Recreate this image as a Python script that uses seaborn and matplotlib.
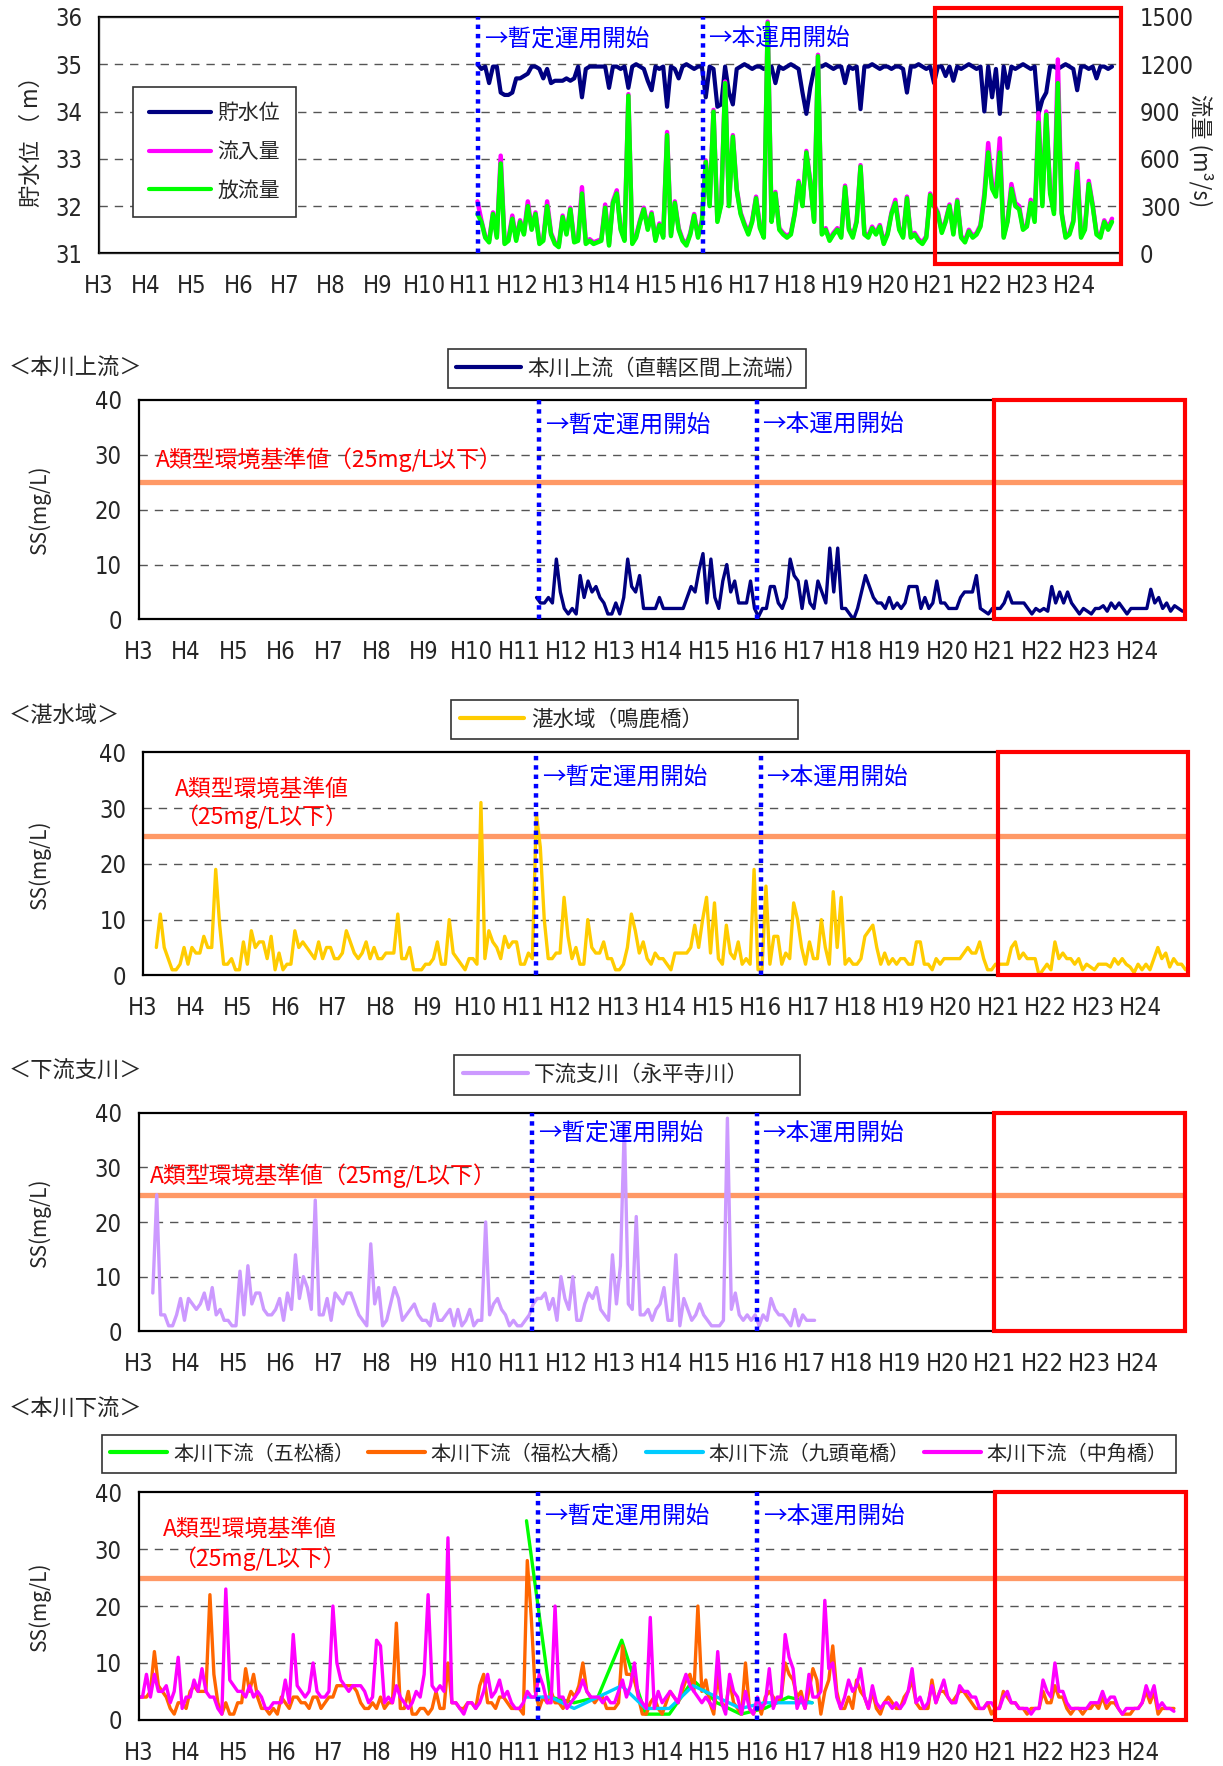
import numpy as np
import matplotlib
matplotlib.use("Agg")
import matplotlib.pyplot as plt
from matplotlib import font_manager
from matplotlib.font_manager import FontProperties
from matplotlib.lines import Line2D
from matplotlib.patches import Rectangle
import seaborn as sns

# ---- data ------------------------------------------------------------
years = list(range(3, 25))
year_labels = ["H%d" % y for y in years]

# reservoir: monthly samples from H11.15
dam_start = 11.15
water_level = [
    35.0, 34.9, 34.95, 34.6, 34.95, 34.95, 34.4, 34.35, 34.35, 34.4, 34.7, 34.7,
    34.75, 34.8, 34.95, 34.95, 34.9, 34.7, 34.9, 34.6, 34.65, 34.65, 34.65, 34.7,
    34.65, 34.7, 34.95, 34.3, 34.9, 34.95, 34.95, 34.95, 34.95, 34.95, 34.5, 34.95,
    34.95, 34.9, 34.95, 34.5, 34.95, 35.0, 34.95, 34.9, 34.65, 34.45, 34.95, 34.9,
    34.95, 34.1, 34.95, 34.9, 34.7, 34.95, 35.0, 34.95, 34.9, 34.95, 34.95, 34.3,
    34.95, 34.9, 34.1, 34.15, 34.95, 34.4, 34.15, 34.9, 34.95, 35.0, 34.95, 34.9,
    34.95, 34.95, 34.9, 34.95, 34.95, 34.6, 34.95, 34.9, 34.95, 35.0, 34.95, 34.9,
    34.4, 33.95, 34.5, 34.9, 34.95, 34.95, 35.0, 34.95, 34.9, 34.95, 34.95, 34.6,
    34.95, 34.9, 34.95, 34.05, 34.95, 34.95, 35.0, 34.95, 34.9, 34.95, 34.95, 34.9,
    34.95, 34.95, 34.9, 34.4, 34.95, 34.95, 35.0, 34.95, 34.9, 34.95, 34.6, 34.95,
    34.95, 34.75, 34.95, 34.65, 34.95, 34.9, 34.95, 35.0, 34.95, 34.9, 34.95, 34.0,
    34.95, 34.3, 34.9, 33.95, 34.95, 34.5, 34.95, 34.9, 34.95, 35.0, 34.95, 34.9,
    34.95, 33.95, 34.25, 34.4, 34.95, 34.95, 34.9, 34.95, 35.0, 34.95, 34.9, 34.45,
    34.95, 34.95, 34.9, 34.95, 34.7, 34.95, 34.95, 34.9, 34.95,
]
outflow = [
    250, 200, 100, 70, 250, 100, 570, 60, 80, 220, 80, 200,
    120, 300, 150, 250, 60, 80, 300, 120, 60, 40, 230, 120,
    280, 70, 80, 380, 60, 80, 60, 70, 80, 290, 50, 320,
    380, 150, 80, 1000, 60, 100, 200, 280, 150, 250, 80, 180,
    100, 750, 110, 320, 150, 80, 50, 120, 240, 100, 200, 580,
    300, 900, 200, 310, 1080, 300, 740, 400, 250, 180, 120, 200,
    350, 160, 100, 1460, 200, 380, 150, 120, 100, 120, 250, 450,
    300, 640, 450, 200, 1250, 120, 150, 80, 120, 150, 100, 420,
    150, 100, 200, 550, 120, 100, 160, 120, 170, 60, 120, 250,
    320, 150, 100, 350, 100, 120, 80, 60, 100, 370, 300, 250,
    130, 200, 300, 120, 330, 100, 70, 140, 100, 120, 170, 350,
    640, 410, 360, 640, 100, 200, 410, 300, 280, 150, 170, 320,
    200, 830, 300, 880, 380, 250, 1080, 250, 100, 120, 200, 520,
    100, 150, 440, 300, 120, 100, 200, 150, 200,
]
inflow = [
    330, 210, 110, 80, 260, 110, 620, 70, 90, 240, 90, 210,
    130, 330, 160, 260, 70, 90, 330, 130, 70, 50, 240, 130,
    290, 80, 90, 420, 70, 90, 70, 80, 90, 310, 60, 330,
    400, 160, 90, 1010, 70, 110, 210, 290, 160, 260, 90, 190,
    110, 770, 120, 330, 160, 90, 60, 130, 250, 110, 210, 590,
    310, 910, 210, 320, 1090, 310, 750, 410, 260, 190, 130, 210,
    360, 170, 110, 1470, 210, 390, 160, 130, 110, 130, 260, 460,
    310, 650, 460, 210, 1260, 130, 160, 90, 130, 160, 110, 430,
    160, 110, 210, 560, 130, 110, 170, 130, 180, 70, 130, 260,
    340, 160, 110, 360, 110, 130, 90, 70, 110, 380, 310, 260,
    140, 210, 310, 130, 340, 110, 80, 150, 110, 130, 180, 380,
    700, 440, 400, 730, 110, 210, 440, 320, 300, 160, 180, 340,
    220, 890, 320, 900, 400, 270, 1230, 260, 110, 130, 210, 570,
    110, 160, 460, 310, 130, 110, 210, 160, 220,
]

# 本川上流 (monthly from H11.37)
upper_start = 11.37
ss_upper = [
    4, 3, 3, 4, 3, 11, 5, 2, 1, 2, 1, 8, 4, 7, 5, 6, 4, 3, 1, 1, 3,
    1, 4, 11, 6, 5, 8, 2, 2, 2, 2, 4, 2, 2, 2, 2, 2, 2, 4, 6, 5,
    9, 12, 3, 11, 4, 2, 7, 10, 5, 7, 3, 3, 3, 7, 2, 0.5, 2, 2, 6, 6,
    3, 2, 4, 11, 8, 7, 2, 7, 3, 2, 7, 5, 3, 13, 5, 13, 2, 2, 1, 0,
    2, 5, 8, 6, 4, 3, 3, 2, 4, 2, 3, 2, 3, 6, 6, 6, 2, 4, 2, 3,
    7, 3, 3, 2, 2, 2, 4, 5, 5, 5, 8, 2, 1.5, 1, 2, 2, 2, 3, 5, 3,
    3, 3, 3, 2, 1, 2, 1.5, 2, 1.5, 6, 3, 5, 3, 5, 3, 2, 1, 2, 1.5, 1,
    2, 2, 2.5, 1.5, 3, 2, 3, 2, 1, 2, 2, 2, 2, 2, 5.5, 3, 4, 2, 3, 1.5,
    2.5, 2, 1.5,
]

# 湛水域 (monthly from H3.28)
lake_start = 3.28
ss_lake = [
    5, 11, 5, 3, 1, 1, 2, 5, 2, 5, 4, 4, 7, 5, 5, 19, 9, 2, 2, 3,
    1, 1, 6, 2, 8, 5, 6, 6, 3, 7, 1, 4, 1, 2, 2, 8, 5, 6, 5, 4,
    3, 6, 3, 5, 5, 3, 3, 4, 8, 6, 4, 3, 4, 6, 3, 5, 3, 3, 4, 4,
    4, 11, 3, 3, 5, 1, 1, 1, 2, 2, 3, 6, 2, 2, 10, 4, 3, 2, 1, 3,
    3, 2, 31, 3, 8, 6, 5, 3, 7, 5, 6, 6, 2, 2, 4, 3, 29, 23, 10, 3,
    3, 4, 4, 14, 7, 3, 5, 2, 2, 10, 5, 4, 4, 6, 3, 3, 1, 1, 2,
    5, 11, 8, 4, 6, 3, 2, 4, 3, 3, 2, 1, 4, 4, 4, 4, 5, 9, 5, 10,
    14, 4, 13, 3, 2, 9, 4, 3, 6, 2, 3, 2, 19, 1, 1, 16, 2, 7, 7, 2,
    4, 3, 13, 10, 5, 2, 6, 3, 3, 10, 5, 2, 15, 5, 14, 2, 3, 2, 2, 3,
    7, 8, 9, 5, 2, 4, 2, 3, 2, 3, 3, 2, 2, 6, 6, 2, 2, 1, 3, 2,
    3, 3, 3, 3, 3, 4, 5, 4, 4, 6, 3, 1, 1, 2, 2, 2, 2, 5, 6, 3,
    4, 3, 3, 3, 0, 1, 2, 1, 6, 3, 4, 3, 3, 2, 3, 1, 2, 1.5, 1, 2,
    2, 2, 1.5, 3, 2, 3, 2, 1.5, 0.5, 2, 1, 2, 1, 3, 5, 3, 4, 1.5, 3, 2,
    2, 1,
]

# 下流支川 (monthly from H3.3)
trib_start = 3.3
ss_trib = [
    7, 25, 3, 3, 1, 1, 3, 6, 2, 6, 5, 4, 5, 7, 4, 8, 3, 4, 2, 2,
    1, 1, 11, 3, 12, 5, 7, 7, 4, 3, 3, 4, 6, 2, 7, 4, 14, 6, 10, 8,
    4, 24, 3, 3, 6, 2, 7, 6, 5, 7, 7, 5, 3, 2, 1, 16, 5, 8, 1, 2,
    5, 8, 6, 2, 3, 4, 5, 3, 2, 2, 1, 5, 2, 2, 3, 4, 1, 4, 1, 2,
    4, 1, 2, 2, 20, 3, 5, 6, 4, 3, 1, 2, 1, 1, 2, 3, 5, 6, 6, 7,
    4, 6, 2, 10, 6, 4, 10, 2, 2, 5, 7, 6, 8, 4, 3, 2, 14, 5, 12,
    38, 5, 4, 21, 3, 3, 4, 2, 4, 5, 8, 2, 2, 14, 1, 6, 4, 2, 3, 5,
    3, 2, 1, 1, 1, 2, 39, 4, 7, 3, 2, 3, 2, 3, 1, 3, 2, 6, 4, 3,
    3, 2, 1, 4, 1, 3, 2, 2, 2,
]

# 本川下流 (monthly from H3.0)
lower_start = 3.0
ss_nakatsuno = [
    4, 4, 8, 4, 8, 5, 5, 6, 3, 5, 11, 2, 4, 4, 7, 5, 9, 5, 4, 4,
    2, 1, 23, 7, 6, 5, 5, 4, 6, 4, 5, 4, 2, 2, 3, 3, 3, 7, 3, 15,
    6, 5, 4, 5, 10, 5, 4, 4, 5, 20, 10, 7, 6, 5, 6, 6, 6, 5, 3, 4,
    14, 13, 3, 4, 3, 6, 4, 3, 2, 3, 5, 4, 8, 22, 6, 5, 6, 5, 32, 3,
    3, 2, 1, 3, 3, 2, 3, 5, 8, 4, 5, 7, 4, 5, 3, 2, 2, 3, 5, 4,
    4, 8, 6, 3, 3, 20, 4, 4, 2, 3, 4, 5, 7, 5, 4, 4, 4, 3, 4, 3,
    3, 5, 7, 4, 6, 10, 4, 3, 2, 18,
    2, 5, 3, 4, 5, 4, 3, 6, 8, 6, 5, 4, 3, 4, 3, 2, 12, 3, 1, 8,
    5, 4, 1, 5, 2, 1, 4, 2, 3, 9, 2, 4, 4, 15, 11, 9, 2, 4, 2, 8,
    4, 4, 5, 21, 9, 10, 4, 2, 4, 7, 5, 6, 9, 4, 2, 6, 3, 2, 3, 3,
    2, 3, 2, 3, 5, 9, 3, 4, 2, 3, 6, 3, 5, 7, 4, 3, 3, 6, 5, 5,
    4, 4, 2, 2, 3, 3, 2, 2, 4, 5, 3, 3, 2, 2, 2, 1, 2, 2, 7, 5,
    4, 10, 5, 5, 3, 2, 2, 2, 2, 2, 3, 3, 3, 5, 3, 4, 4, 2, 1, 2,
    2, 2, 2, 3, 6, 4, 6, 2, 3, 2, 2, 1.5,
]
ss_fukumatsu = [
    4, 4, 4, 5, 12, 6, 5, 4, 2, 1, 3, 3, 2, 5, 6, 5, 5, 5, 22, 8,
    3, 1, 3, 1, 1, 3, 3, 9, 5, 8, 4, 2, 2, 1, 2, 1, 4, 3, 2, 4,
    4, 3, 3, 2, 4, 4, 2, 3, 4, 4, 6, 6, 6, 6, 6, 5, 3, 2, 2, 3,
    2, 4, 2, 3, 3, 17, 2, 2, 5, 1, 1, 2, 2, 1, 2, 5, 2, 2, 10, 3,
    3, 2, 2, 3, 3, 2, 6, 8, 3, 3, 2, 4, 4, 3, 2, 2, 2, 1, 28, 18,
    5, 2, 4, 3, 5, 3, 3, 2, 3, 5, 4, 6, 10, 5, 4, 3, 4, 4, 2, 2,
    2, 3, 13, 8, 8, 7, 4, 1, 1, 3,
    4, 2, 1, 3, 5, 4, 3, 5, 7, 8, 5, 20, 5, 7, 3, 1, 8, 3, 2, 7,
    3, 2, 1, 10, 2, 1, 3, 1, 4, 5, 4, 3, 4, 10, 8, 7, 4, 5, 2, 5,
    9, 7, 1, 5, 7, 13, 5, 2, 2, 4, 2, 7, 5, 4, 2, 5, 2, 1, 3, 4,
    3, 2, 2, 4, 5, 7, 3, 2, 2, 2, 7, 3, 5, 5, 4, 3, 4, 5, 5, 4,
    3, 2, 2, 2, 3, 1, 2, 2, 5, 4, 3, 3, 2, 2, 1, 2, 2, 2, 5, 3,
    3, 6, 4, 4, 2, 1, 2, 2, 1, 2, 2, 3, 2, 4, 2, 3, 3, 2, 1, 1,
    1, 2, 2, 3, 5, 3, 5, 1, 2, 2, 2, 2,
]
# half-yearly from H11.15
sparse_start = 11.15
ss_gomatsu = [35, 4, 3, 4, 14, 1, 1, 7, 3, 1, 2, 4, 3]
ss_kuzuryu = [4, 4, 2, 4, 6, 2, 2, 6, 4, 2, 3, 3, 3]

interim_start = {"dam": 11.17, "upper": 11.42, "lake": 11.27, "trib": 11.28, "lower": 11.4}
full_start = 16.0

# ---- style -----------------------------------------------------------
sns.set_style("white")
JP = ["Noto Sans CJK JP", "DejaVu Sans"]
plt.rcParams["font.family"] = JP

# narrow face for the numbers, if one is installed
_narrow = None
for key in ("LiberationSansNarrow-Regular", "DejaVuSansCondensed.", "LiberationSansNarrow"):
    for f in font_manager.fontManager.ttflist:
        if key in f.fname and "Bold" not in f.fname and "Italic" not in f.fname \
                and "Oblique" not in f.fname:
            _narrow = f.fname
            break
    if _narrow:
        break
TICK_SIZE = 17


def tick_font():
    if _narrow:
        return FontProperties(fname=_narrow, size=TICK_SIZE)
    return FontProperties(family=JP, size=TICK_SIZE - 1, stretch="condensed")


NAVY = "#000080"
MAGENTA = "#FF00FF"
GREEN = "#00FF00"
YELLOW = "#FFCC00"
LAVENDER = "#CC99FF"
ORANGE = "#FF6600"
CYAN = "#00CCFF"
STD_LINE = "#FF9966"

W, H = 1086.0, 1568.0   # layout measured on the reduced picture


def box(l, r, t, b):
    return [l / W, 1 - b / H, (r - l) / W, (b - t) / H]


def months(start, vals):
    return start + np.arange(len(vals)) / 12.0


def base_axis(ax, ylim, yticks, grid_vals):
    ax.set_xlim(3, 25)
    ax.set_ylim(*ylim)
    ax.set_xticks(years)
    ax.set_xticklabels(year_labels)
    ax.set_yticks(yticks)
    for v in grid_vals:
        ax.axhline(v, color="#555555", lw=1.0, ls=(0, (6, 5)), zorder=0.5)
    ax.tick_params(axis="x", direction="in", length=6, width=1, pad=15)
    ax.tick_params(axis="y", length=0, pad=12)
    for lab in ax.get_xticklabels() + ax.get_yticklabels():
        lab.set_fontproperties(tick_font())
    for s in ax.spines.values():
        s.set_linewidth(1.6)
        s.set_color("black")


def markers(ax, x1, y_text, ymin, ymax):
    for xv in (x1, full_start):
        ax.plot([xv, xv], [ymin, ymax], color="#0000FF", lw=3.2,
                ls=(0, (1, 1.1)), zorder=4)
    ax.text(x1 + 0.12, y_text, "→暫定運用開始", color="#0000FF", fontsize=17,
            va="center", ha="left", zorder=5)
    ax.text(full_start + 0.12, y_text, "→本運用開始", color="#0000FF", fontsize=17,
            va="center", ha="left", zorder=5)


def red_frame(ax, y0, y1):
    ax.add_patch(Rectangle((21, y0), 4, y1 - y0, fill=False, edgecolor="#FF0000",
                           lw=3.0, clip_on=False, zorder=6))


def ss_panel(ax):
    base_axis(ax, (0, 40), [0, 10, 20, 30, 40], [10, 20, 30])
    ax.axhline(25, color=STD_LINE, lw=3.8, zorder=1)


def lbox(l, r, t, b):
    return (l / W, 1 - b / H, (r - l) / W, (b - t) / H)


def legend_box(handles, labels, bx, ncol=1, fs=15.5, hl=3.0):
    leg = fig.legend(handles, labels, loc="center", bbox_to_anchor=bx,
                     bbox_transform=fig.transFigure, mode="expand", ncol=ncol,
                     fontsize=fs, frameon=True, fancybox=False, framealpha=1,
                     edgecolor="#333333", handlelength=hl, handletextpad=0.3,
                     borderpad=0.4)
    leg.get_frame().set_linewidth(1.2)
    return leg


fig = plt.figure(figsize=(12.23, 17.66), dpi=100)

# ---- panel 1: reservoir -------------------------------------------------
ax1 = fig.add_axes(box(88, 995, 15, 225))
base_axis(ax1, (31, 36), [31, 32, 33, 34, 35, 36], [32, 33, 34, 35])
sns.lineplot(x=months(dam_start, water_level), y=water_level, ax=ax1, color=NAVY,
             lw=3.0, estimator=None, sort=False, legend=False)
ax2 = ax1.twinx()
ax2.set_ylim(0, 1500)
ax2.set_yticks([0, 300, 600, 900, 1200, 1500])
ax2.tick_params(axis="y", length=0, pad=14)
for lab in ax2.get_yticklabels():
    lab.set_fontproperties(tick_font())
sns.lineplot(x=months(dam_start, inflow), y=inflow, ax=ax2, color=MAGENTA,
             lw=3.2, estimator=None, sort=False, legend=False)
sns.lineplot(x=months(dam_start, outflow), y=outflow, ax=ax2, color=GREEN,
             lw=3.2, estimator=None, sort=False, legend=False)
ax2.set_ylabel("")
ax1.set_ylabel("")
markers(ax2, interim_start["dam"], 1356, 0, 1500)
red_frame(ax2, -70, 1555)
fig.text(0.026, 0.923, "貯水位 （ m）", rotation=90, fontsize=16, ha="center", va="center")
fig.text(0.982, 0.915, "流量 (m³/s)", rotation=-90, fontsize=16, ha="center", va="center")
leg1 = fig.legend([Line2D([], [], color=c, lw=3) for c in (NAVY, MAGENTA, GREEN)],
                  ["貯水位", "流入量", "放流量"], loc="center",
                  bbox_to_anchor=(190.5 / W, 1 - 135 / H), fontsize=15,
                  frameon=True, fancybox=False, framealpha=1, edgecolor="#333333",
                  handlelength=3.0, handletextpad=0.3, labelspacing=0.8,
                  borderpad=0.75)
leg1.get_frame().set_linewidth(1.2)

# ---- panel 2: 本川上流 ---------------------------------------------------
axa = fig.add_axes(box(123, 1052, 355, 550))
ss_panel(axa)
sns.lineplot(x=months(upper_start, ss_upper), y=ss_upper, ax=axa, color=NAVY,
             lw=2.4, estimator=None, sort=False, legend=False)
markers(axa, interim_start["upper"], 35.3, 0, 40)
red_frame(axa, 0, 40)
axa.text(3.36, 29.1, "A類型環境基準値（25mg/L以下）", color="#FF0000", fontsize=16.5,
         va="center", ha="left")
fig.text(8 / W, 1 - 327 / H, "＜本川上流＞", fontsize=16, va="center", ha="left")
legend_box([Line2D([], [], color=NAVY, lw=3)], ["本川上流（直轄区間上流端）"],
           lbox(388, 725, 308, 346))

# ---- panel 3: 湛水域 ----------------------------------------------------
axb = fig.add_axes(box(127, 1055, 668, 866))
ss_panel(axb)
sns.lineplot(x=months(lake_start, ss_lake), y=ss_lake, ax=axb, color=YELLOW,
             lw=2.4, estimator=None, sort=False, legend=False)
markers(axb, interim_start["lake"], 35.4, 0, 40)
red_frame(axb, 0, 40)
axb.text(5.5, 33.4, "A類型環境基準値", color="#FF0000", fontsize=16.5, va="center", ha="center")
axb.text(5.5, 28.5, "（25mg/L以下）", color="#FF0000", fontsize=16.5, va="center", ha="center")
fig.text(8 / W, 1 - 635 / H, "＜湛水域＞", fontsize=16, va="center", ha="left")
legend_box([Line2D([], [], color=YELLOW, lw=3)], ["湛水域（鳴鹿橋）"],
           lbox(391, 718, 620, 658))

# ---- panel 4: 下流支川 --------------------------------------------------
axc = fig.add_axes(box(123, 1052, 988, 1182))
ss_panel(axc)
sns.lineplot(x=months(trib_start, ss_trib), y=ss_trib, ax=axc, color=LAVENDER,
             lw=2.4, estimator=None, sort=False, legend=False)
markers(axc, interim_start["trib"], 36.1, 0, 40)
red_frame(axc, 0, 40)
axc.text(3.24, 28.5, "A類型環境基準値（25mg/L以下）", color="#FF0000", fontsize=16.5,
         va="center", ha="left")
fig.text(8 / W, 1 - 951 / H, "＜下流支川＞", fontsize=16, va="center", ha="left")
legend_box([Line2D([], [], color=LAVENDER, lw=3)], ["下流支川（永平寺川）"],
           lbox(394, 720, 935, 974))

# ---- panel 5: 本川下流 --------------------------------------------------
axd = fig.add_axes(box(123, 1053, 1325, 1527))
ss_panel(axd)
sparse_x = sparse_start + 0.5 * np.arange(len(ss_gomatsu))
sns.lineplot(x=sparse_x, y=ss_gomatsu, ax=axd, color=GREEN, lw=2.4,
             estimator=None, sort=False, legend=False)
sns.lineplot(x=months(lower_start, ss_fukumatsu), y=ss_fukumatsu, ax=axd, color=ORANGE,
             lw=2.4, estimator=None, sort=False, legend=False)
sns.lineplot(x=sparse_x, y=ss_kuzuryu, ax=axd, color=CYAN, lw=2.4,
             estimator=None, sort=False, legend=False)
sns.lineplot(x=months(lower_start, ss_nakatsuno), y=ss_nakatsuno, ax=axd, color=MAGENTA,
             lw=2.4, estimator=None, sort=False, legend=False)
markers(axd, interim_start["lower"], 35.6, 0, 40)
red_frame(axd, 0, 40)
axd.text(5.34, 33.5, "A類型環境基準値", color="#FF0000", fontsize=16.5, va="center", ha="center")
axd.text(5.55, 28.3, "（25mg/L以下）", color="#FF0000", fontsize=16.5, va="center", ha="center")
fig.text(8 / W, 1 - 1251 / H, "＜本川下流＞", fontsize=16, va="center", ha="left")
legend_box([Line2D([], [], color=c, lw=3) for c in (GREEN, ORANGE, CYAN, MAGENTA)],
           ["本川下流（五松橋）", "本川下流（福松大橋）", "本川下流（九頭竜橋）", "本川下流（中角橋）"],
           lbox(82, 1053, 1272, 1310), ncol=4, fs=14.5, hl=2.8)

for ax in (axa, axb, axc, axd):
    ax.set_ylabel("")
    ax.set_xlabel("")
    pos = ax.get_position()
    fig.text(0.032, pos.y0 + pos.height / 2, "SS(mg/L)", rotation=90, fontsize=15,
             ha="center", va="center")

fig.savefig("out.png", dpi=100, facecolor="white")
